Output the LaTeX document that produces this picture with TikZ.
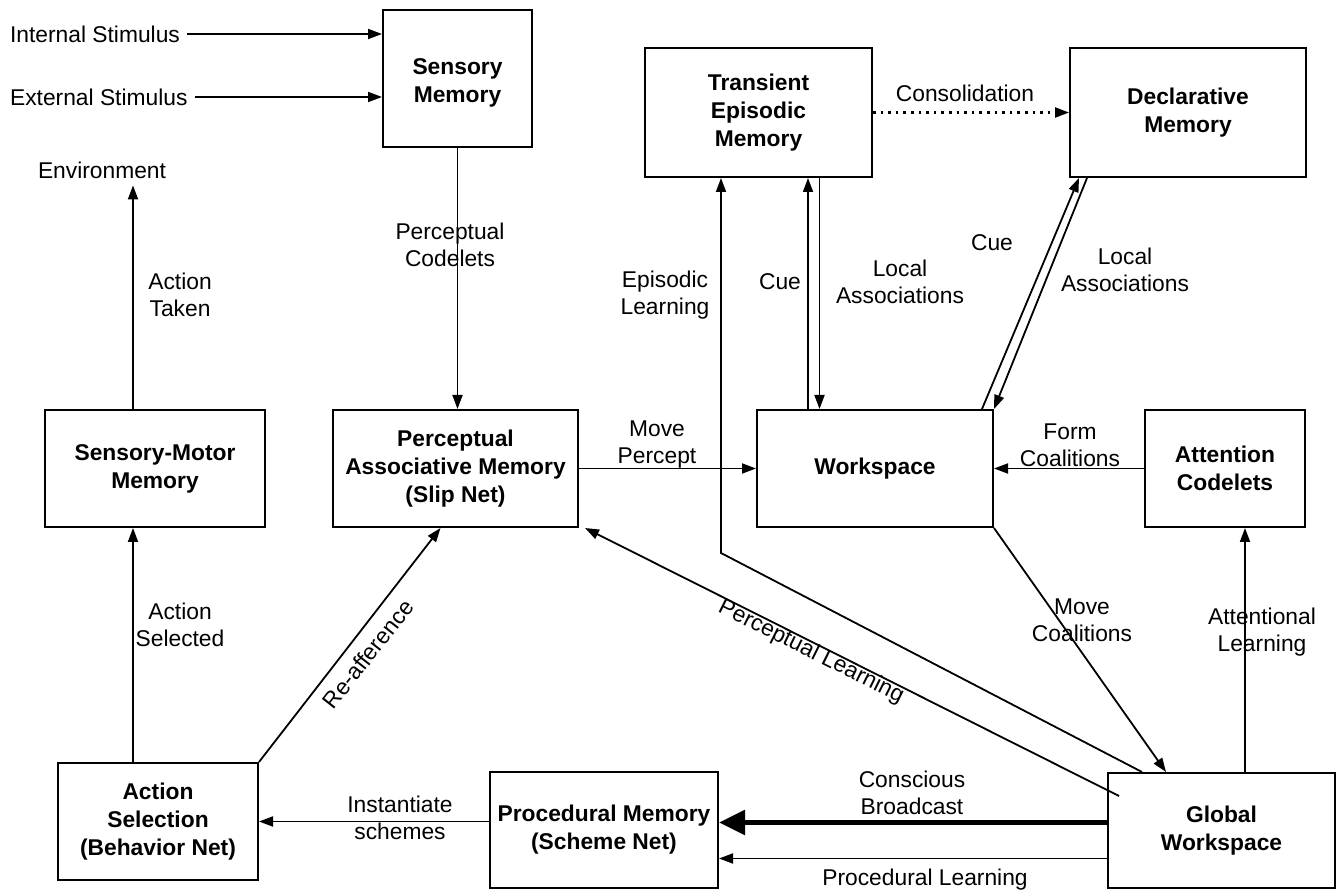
\documentclass[tikz,border=0pt]{standalone}
\usepackage{fontspec}
\setmainfont{Liberation Sans}
\usetikzlibrary{arrows.meta}
\begin{document}
\begin{tikzpicture}[x=0.5pt, y=-0.5pt,
		box/.style = {draw, line width=1pt, align=center, inner sep=0pt, font=\fontsize{11.4}{14}\selectfont\bfseries},
		lbl/.style = {align=center, font=\fontsize{11.4}{13.5}\selectfont},
		arr/.style = {line width=0.9pt, -{Triangle[length=7pt, width=5pt]}},
		bigarr/.style = {line width=2.6pt, -{Triangle[length=13pt, width=12pt]}}]
			\useasboundingbox (0,0) rectangle (1338,892);
			% boxes
			\node[box, minimum width=74.5pt, minimum height=68.5pt] (sensory) at (457.5,79) {};
			\node[box, draw=none] (sensorytext) at (457.5,83) {Sensory\\Memory};
			\node[box, minimum width=113.5pt, minimum height=64.5pt] (tem) at (758.5,112.5) {Transient\\Episodic\\Memory};
			\node[box, minimum width=118pt, minimum height=64.5pt] (decl) at (1188,112.5) {Declarative\\Memory};
			\node[box, minimum width=110pt, minimum height=58.5pt] (smm) at (155,468.5) {Sensory-Motor\\Memory};
			\node[box, minimum width=122.5pt, minimum height=58.5pt] (pam) at (455.5,468.5) {Perceptual\\Associative Memory\\(Slip Net)};
			\node[box, minimum width=118pt, minimum height=58.5pt] (work) at (875,468.5) {Workspace};
			\node[box, minimum width=80pt, minimum height=58.5pt] (att) at (1225,468.5) {Attention\\Codelets};
			\node[box, minimum width=100pt, minimum height=58.5pt] (asel) at (158,821.5) {Action\\Selection\\(Behavior Net)};
			\node[box, minimum width=114pt, minimum height=58pt] (proc) at (604,830) {Procedural Memory\\(Scheme Net)};
			\node[box, minimum width=113.5pt, minimum height=57.5pt] (glob) at (1221.5,830.5) {Global\\Workspace};
			% free texts
			\node[lbl, anchor=west] (intstim) at (3,34) {Internal Stimulus};
			\node[lbl, anchor=west] (extstim) at (3,97) {External Stimulus};
			\node[lbl] (env) at (102,170) {Environment};
			\coordinate (bend) at (721,553);
			% inputs
			\draw[arr] (intstim.east) -- (intstim.east -| sensory.west);
			\draw[arr] (extstim.east) -- (extstim.east -| sensory.west);
			% connectors
			\draw[arr] ([xshift=-11pt]smm.north) -- ([xshift=15.5pt]env.south);
			\draw[arr] (sensory.south) -- (sensory.south |- pam.north);
			\draw[arr, line width=1.1pt, dash pattern={on 1.3pt off 2.5pt}] (tem.east) -- (decl.west);
			\draw[arr] ([xshift=17.5pt]glob.north west) -- (bend) -- (bend |- tem.south);
			\draw[arr] ([xshift=-33.5pt]work.north) -- ([xshift=-33.5pt]work.north |- tem.south);
			\draw[arr] ([xshift=30.5pt]tem.south) -- ([xshift=30.5pt]tem.south |- work.north);
			\draw[arr] ([xshift=-6pt]work.north east) -- ([xshift=5pt]decl.south west);
			\draw[arr] ([xshift=9pt]decl.south west) -- (work.north east);
			\draw[arr] (pam.east) -- (work.west);
			\draw[arr] (att.west) -- (work.east);
			\draw[arr] (work.south east) -- ([xshift=29.5pt]glob.north west);
			\draw[arr] ([xshift=10pt]att.south |- glob.north) -- ([xshift=10pt]att.south);
			\draw[arr] ([xshift=6pt, yshift=-12pt]glob.north west) -- ([xshift=3pt]pam.south east);
			\draw[arr] ([xshift=-12.5pt]asel.north) -- ([xshift=-12.5pt]asel.north |- smm.south);
			\draw[arr] (asel.north east) -- ([xshift=-7.5pt]pam.south);
			\draw[arr] (asel.east -| proc.west) -- (asel.east);
			\draw[bigarr] ([yshift=4pt]glob.west) -- ([yshift=4pt]glob.west -| proc.east);
			\draw[arr] ([yshift=-14pt]glob.west) -- ([yshift=-14pt]glob.west -| proc.east);
			% labels
			\node[lbl] (taken) at (180,295) {Action\\Taken};
			\node[lbl] (pcodelets) at (450,245) {Perceptual\\Codelets};
			\node[lbl] (consol) at (965,93) {Consolidation};
			\node[lbl] (eplearn) at (665,295) {Episodic\\Learning};
			\node[lbl] (cuetem) at (780,282) {Cue};
			\node[lbl] (loctem) at (900,282) {Local\\Associations};
			\node[lbl] (cuedecl) at (992,243) {Cue};
			\node[lbl] (locdecl) at (1125,270) {Local\\Associations};
			\node[lbl] (movepercept) at (657,445) {Move\\Percept};
			\node[lbl] (formcoal) at (1070,445) {Form\\Coalitions};
			\node[lbl] (movecoal) at (1082,620) {Move\\Coalitions};
			\node[lbl] (attlearn) at (1262,632) {Attentional\\Learning};
			\node[lbl, rotate=-26.5] (perclearn) at (811,652) {Perceptual Learning};
			\node[lbl] (selected) at (180,625) {Action\\Selected};
			\node[lbl, rotate=52] (reaff) at (368,654) {Re-afference};
			\node[lbl] (inst) at (400,818) {Instantiate\\schemes};
			\node[lbl] (broadcast) at (912,793) {Conscious\\Broadcast};
			\node[lbl] (proclearn) at (925,880) {Procedural Learning};
		\end{tikzpicture}
\end{document}
